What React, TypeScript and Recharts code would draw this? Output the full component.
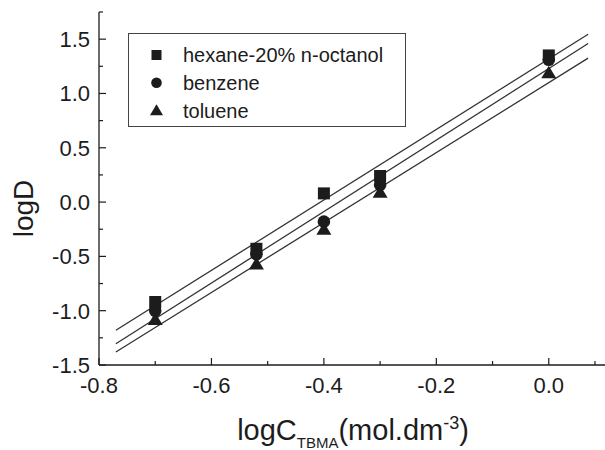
import { ScatterChart, Scatter, XAxis, YAxis, Legend, Label } from "recharts"

const FONT = '"Liberation Sans", Arial, Helvetica, sans-serif'
const INK = "#1c1c1c"

// measured points
const concX = [-0.70, -0.52, -0.40, -0.30, 0.00]
const hexaneD = [-0.92, -0.43, 0.08, 0.24, 1.35]
const benzeneD = [-1.00, -0.48, -0.18, 0.16, 1.31]
const tolueneD = [-1.08, -0.57, -0.25, 0.09, 1.19]

// fitted lines (ends)
const fitX = [-0.77, 0.07]
const hexaneFit = [-1.18, 1.545]
const benzeneFit = [-1.305, 1.46]
const tolueneFit = [-1.38, 1.325]

const seriesNames = ["hexane-20% n-octanol", "benzene", "toluene"]

const xTicks = [-0.8, -0.7, -0.6, -0.5, -0.4, -0.3, -0.2, -0.1, 0.0, 0.1]
const yTicks = [-1.5, -1.25, -1.0, -0.75, -0.5, -0.25, 0.0, 0.25, 0.5, 0.75, 1.0, 1.25, 1.5, 1.75]

const toPts = (xs: number[], ys: number[]) => xs.map((x, i) => ({ x, y: ys[i] }))

const isMajor = (v: number, step: number) => Math.abs(v / step - Math.round(v / step)) < 1e-6

const X_GAP = 12
const Y_GAP = 9

function XTick(props: any) {
  const { x, y, payload } = props
  const v = payload.value
  const major = isMajor(v, 0.2)
  const axisY = y - X_GAP
  return (
    <g>
      <line x1={x} x2={x} y1={axisY} y2={axisY - (major ? 7 : 4)} stroke={INK} strokeWidth={1.2} />
      {major && (
        <text x={x} y={y} dy="0.71em" textAnchor="middle" fontSize={22} fontFamily={FONT} fill={INK}>
          {v.toFixed(1)}
        </text>
      )}
    </g>
  )
}

function YTick(props: any) {
  const { x, y, payload } = props
  const v = payload.value
  const major = isMajor(v, 0.5)
  const axisX = x + Y_GAP
  return (
    <g>
      <line x1={axisX} x2={axisX + (major ? 7 : 4)} y1={y} y2={y} stroke={INK} strokeWidth={1.2} />
      {major && (
        <text x={x} y={y} dy="0.36em" textAnchor="end" fontSize={22} fontFamily={FONT} fill={INK}>
          {v.toFixed(1)}
        </text>
      )}
    </g>
  )
}

const SquareDot = (p: any) => <rect x={p.cx - 6} y={p.cy - 6} width={12} height={12} fill={INK} />
const CircleDot = (p: any) => <circle cx={p.cx} cy={p.cy} r={6.3} fill={INK} />
const TriangleDot = (p: any) => (
  <polygon points={`${p.cx},${p.cy - 7} ${p.cx + 7.5},${p.cy + 5.5} ${p.cx - 7.5},${p.cy + 5.5}`} fill={INK} />
)
const NoDot = () => <g />

function LegendBox() {
  const rows = [21, 48.7, 76.3]
  return (
    <div style={{ width: 278, height: 94, border: "1px solid #444", boxSizing: "border-box", background: "#fff" }}>
      <svg width={276} height={92}>
        <rect x={22.5} y={rows[0] - 5} width={10} height={10} fill={INK} />
        <circle cx={27.5} cy={rows[1]} r={5.3} fill={INK} />
        <polygon points={`27.5,${rows[2] - 6} 34,${rows[2] + 5} 21,${rows[2] + 5}`} fill={INK} />
        {seriesNames.map((name, i) => (
          <text key={name} x={54} y={rows[i]} dy="0.36em" fontSize={20} fontFamily={FONT} fill={INK}>
            {name}
          </text>
        ))}
      </svg>
    </div>
  )
}

function YTitle(props: any) {
  const vb = props.viewBox
  const cx = vb.x + 33
  const cy = vb.y + vb.height / 2 + 20
  return (
    <text x={cx} y={cy} transform={`rotate(-90 ${cx} ${cy})`} textAnchor="middle" fontSize={28} fontFamily={FONT} fill={INK}>
      logD
    </text>
  )
}

function XTitle(props: any) {
  const vb = props.viewBox
  const cx = vb.x + vb.width / 2 + 1
  const by = vb.y + 75
  return (
    <text x={cx} y={by} textAnchor="middle" fontSize={29} fontFamily={FONT} fill={INK}>
      <tspan>logC</tspan>
      <tspan fontSize={15} dy={8}>TBMA</tspan>
      <tspan fontSize={29} dy={-8}>(mol.dm</tspan>
      <tspan fontSize={18} dy={-11}>-3</tspan>
      <tspan fontSize={29} dy={11}>)</tspan>
    </text>
  )
}

export default function App() {
  return (
    <div style={{ width: 605, height: 450, background: "#fff" }}>
      <style>{"body{margin:0}"}</style>
      <ScatterChart width={605} height={450} margin={{ top: 12, right: 0, bottom: 0, left: 0 }}>
        <XAxis
          dataKey="x"
          type="number"
          domain={[-0.8, 0.1]}
          ticks={xTicks}
          allowDataOverflow
          height={85}
          tickSize={0}
          tickMargin={X_GAP}
          tickLine={false}
          tick={<XTick />}
          axisLine={{ stroke: INK, strokeWidth: 1.3 }}
        >
          <Label content={<XTitle />} />
        </XAxis>
        <YAxis
          dataKey="y"
          type="number"
          domain={[-1.5, 1.75]}
          ticks={yTicks}
          allowDataOverflow
          width={99}
          tickSize={0}
          tickMargin={Y_GAP}
          tickLine={false}
          tick={<YTick />}
          axisLine={{ stroke: INK, strokeWidth: 1.3 }}
        >
          <Label content={<YTitle />} />
        </YAxis>
        <Legend
          layout="vertical"
          align="center"
          verticalAlign="middle"
          content={<LegendBox />}
          wrapperStyle={{ left: 128, top: 33, width: 278, height: 94 }}
        />
        <Scatter data={toPts(fitX, hexaneFit)} line={{ stroke: "#333", strokeWidth: 1.3 }} shape={NoDot} legendType="none" isAnimationActive={false} />
        <Scatter data={toPts(fitX, benzeneFit)} line={{ stroke: "#333", strokeWidth: 1.3 }} shape={NoDot} legendType="none" isAnimationActive={false} />
        <Scatter data={toPts(fitX, tolueneFit)} line={{ stroke: "#333", strokeWidth: 1.3 }} shape={NoDot} legendType="none" isAnimationActive={false} />
        <Scatter name={seriesNames[2]} data={toPts(concX, tolueneD)} shape={TriangleDot} isAnimationActive={false} />
        <Scatter name={seriesNames[1]} data={toPts(concX, benzeneD)} shape={CircleDot} isAnimationActive={false} />
        <Scatter name={seriesNames[0]} data={toPts(concX, hexaneD)} shape={SquareDot} isAnimationActive={false} />
      </ScatterChart>
    </div>
  )
}
